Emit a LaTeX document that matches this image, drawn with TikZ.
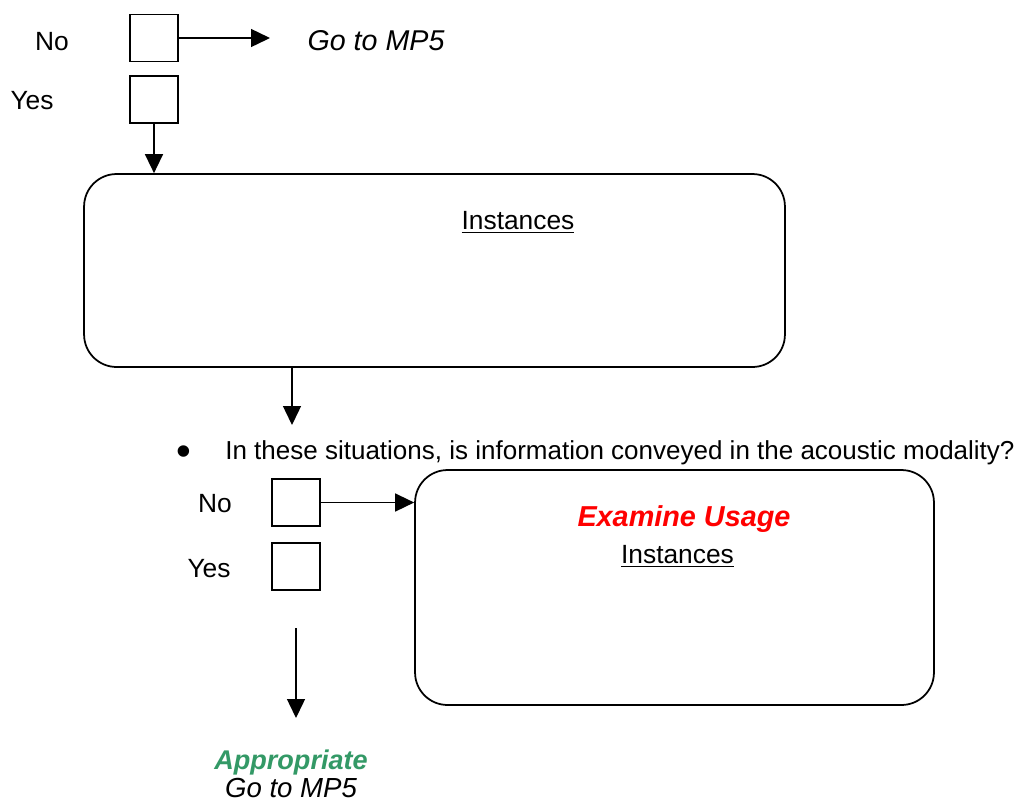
\documentclass[tikz,border=0pt]{standalone}
\usepackage{fontspec}
\setmainfont{Liberation Sans}
\usetikzlibrary{arrows.meta, positioning}

\definecolor{okgreen}{RGB}{51,153,102}

\begin{document}
\begin{tikzpicture}[
    x=0.02cm, y=-0.02cm,
    every node/.style={font=\fontsize{15}{18}\selectfont, inner sep=0pt}, % 统一字体
    tickbox/.style={draw, line width=0.75pt, minimum width=0.96cm, minimum height=0.94cm}, % 小方框
    bigbox/.style={draw, line width=1pt, rounded corners=0.65cm}, % 圆角大框
    flow/.style={line width=0.8pt, -{Triangle[length=0.38cm, width=0.36cm]}} % 箭头
]
    \useasboundingbox (0,0) rectangle (1020,802);

    % 1. 第一组选项 No / Yes
    \node[tickbox] (no1) at (154,38) {};
    \node[tickbox] (yes1) at (154,99.5) {};
    \node (nolab1) at (52,42) {No};
    \node (yeslab1) at (32,101) {Yes};
    \node[anchor=base, font=\fontsize{16.3}{19}\selectfont\itshape] (goto1) at (376,50) {Go to MP5};
    \coordinate (goend) at (270,38);
    \draw[flow] (no1.east) -- (goend);

    % 2. 第一个 Instances 大框
    \node[bigbox, minimum width=14.02cm, minimum height=3.86cm] (inst1) at (434.5,270.5) {};
    \node (insttxt1) at (518,222) {\underline{Instances}};
    \draw[flow] (yes1.south) -- (yes1.south |- inst1.north);

    % 3. 问题
    \coordinate (qend) at (292,425);
    \draw[flow] (inst1.south -| qend) -- (qend);
    \node[font=\fontsize{24}{24}\selectfont] (blt) at (184,456) {\textbullet};
    \node[anchor=base west, font=\fontsize{14.8}{18}\selectfont] (quest) at (225,459) {In these situations, is information conveyed in the acoustic modality?};

    % 4. 第二组选项 No / Yes
    \node[tickbox] (no2) at (296,502.5) {};
    \node[tickbox] (yes2) at (296,566.5) {};
    \node (nolab2) at (215,504) {No};
    \node (yeslab2) at (209,569) {Yes};

    % 5. Examine Usage 大框
    \node[bigbox, minimum width=10.38cm, minimum height=4.7cm] (exam) at (674.5,587.5) {};
    \node[anchor=base, red, font=\fontsize{16.4}{19}\selectfont\bfseries\itshape] (examtxt) at (684,526) {Examine Usage};
    \node (insttxt2) at (677.5,556) {\underline{Instances}};
    \draw[flow] (no2.east) -- (no2.east -| exam.west);

    % 6. Appropriate
    \coordinate (ystart) at (296,628);
    \coordinate (yend) at (296,718);
    \draw[flow] (ystart) -- (yend);
    \node[anchor=base, okgreen, font=\fontsize{15.4}{18}\selectfont\bfseries\itshape] (appr) at (291,769) {Appropriate};
    \node[anchor=base, font=\fontsize{15.7}{18}\selectfont\itshape] (goto2) at (291,797) {Go to MP5};

\end{tikzpicture}
\end{document}
